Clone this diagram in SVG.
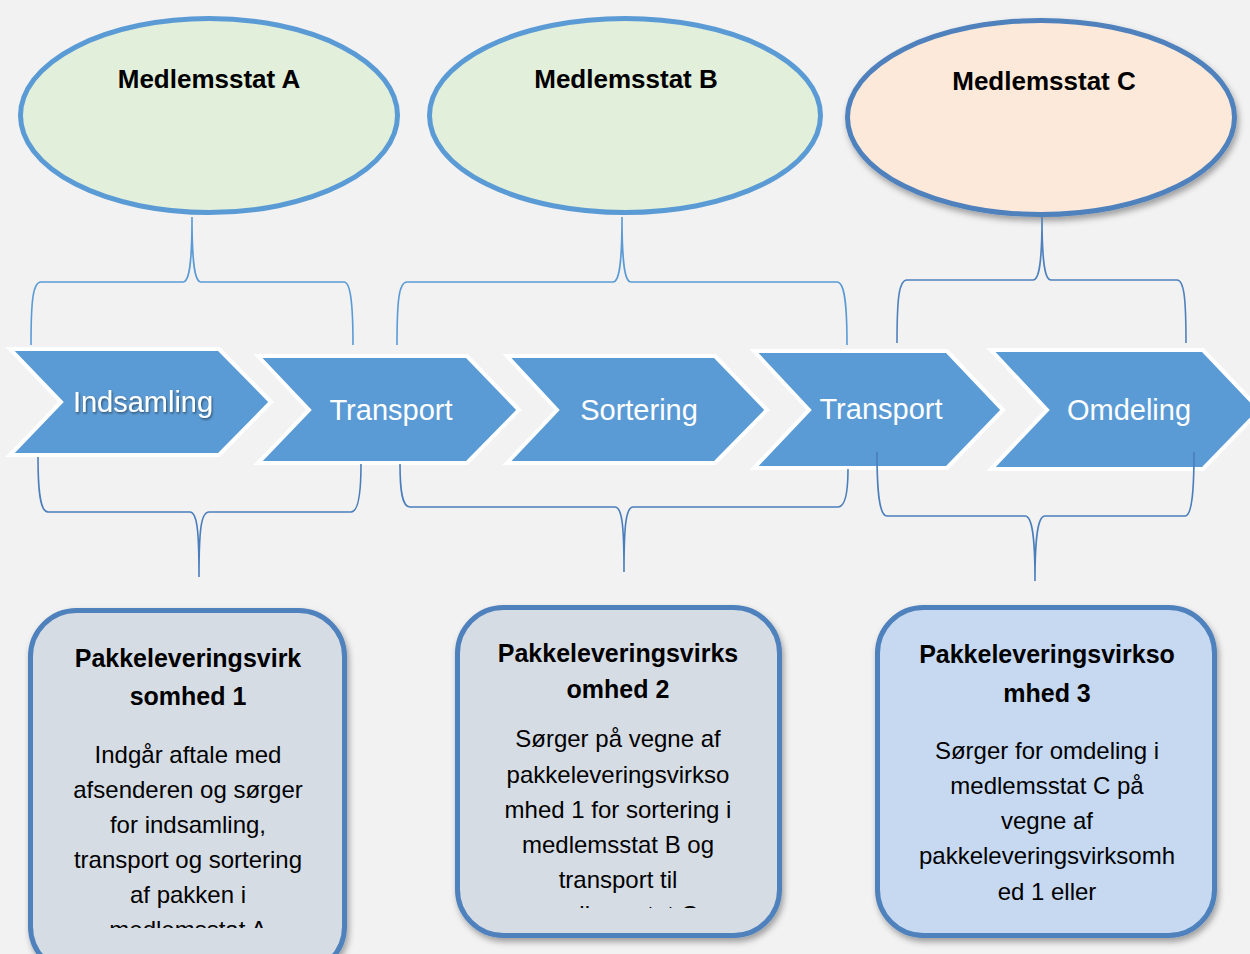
<svg xmlns="http://www.w3.org/2000/svg" width="1250" height="954" viewBox="0 0 1250 954">
<style>
.ell{stroke-width:5}
.state{font-family:"Liberation Sans",Arial,sans-serif;font-weight:bold;font-size:26px;fill:#000;text-anchor:middle}
.chev{fill:#5b9bd5;stroke:#fff;stroke-width:4;stroke-linejoin:miter}
.clab{font-family:"Liberation Sans",Arial,sans-serif;font-size:29px;fill:#fff;text-anchor:middle}
.box{stroke:#4f81bd;stroke-width:5}
.bt{font-family:"Liberation Sans",Arial,sans-serif;font-weight:bold;font-size:25px;fill:#000;text-anchor:middle}
.bb{font-family:"Liberation Sans",Arial,sans-serif;font-size:24px;fill:#000;text-anchor:middle}
.br{fill:none;stroke-width:1.6}
</style>
<defs>
<filter id="sh" x="-10%" y="-10%" width="130%" height="130%">
<feDropShadow dx="2" dy="4" stdDeviation="3" flood-color="#000" flood-opacity="0.35"/>
</filter>
<filter id="tsh" x="-10%" y="-20%" width="130%" height="150%">
<feDropShadow dx="1" dy="1.5" stdDeviation="1" flood-color="#000" flood-opacity="0.5"/>
</filter>
<clipPath id="c1"><rect x="30" y="600" width="320" height="328"/></clipPath>
<clipPath id="c2"><rect x="455" y="600" width="330" height="308"/></clipPath>
</defs>
<rect width="1250" height="954" fill="#f2f2f2"/>

<g id="state-a">
<ellipse class="ell" cx="209" cy="115.5" rx="188.5" ry="97" fill="#e2efda" stroke="#5b9bd5"/>
<text class="state" x="209" y="88">Medlemsstat A</text>
</g>
<g id="state-b">
<ellipse class="ell" cx="625" cy="115.5" rx="195.5" ry="97" fill="#e2efda" stroke="#5b9bd5"/>
<text class="state" x="626" y="88">Medlemsstat B</text>
</g>
<g id="state-c">
<ellipse class="ell" cx="1041" cy="117.5" rx="193.5" ry="97" fill="#fde9d9" stroke="#4f81bd" filter="url(#sh)"/>
<text class="state" x="1044" y="90">Medlemsstat C</text>
</g>

<g id="step-indsamling">
<polygon class="chev" points="10,349 219,349 271,402 219,455 10,455 61,402"/>
<text class="clab" x="143" y="412" filter="url(#tsh)">Indsamling</text>
</g>
<g id="step-transport-1">
<polygon class="chev" points="258,356 467,356 519,410 467,463 258,463 309,410"/>
<text class="clab" x="391" y="420">Transport</text>
</g>
<g id="step-sortering">
<polygon class="chev" points="507,356 715,356 767,410 715,463 507,463 557,410"/>
<text class="clab" x="639" y="420">Sortering</text>
</g>
<g id="step-transport-2">
<polygon class="chev" points="754,351 947,351 1003,410 947,468 754,468 809,410"/>
<text class="clab" x="881" y="419">Transport</text>
</g>
<g id="step-omdeling">
<polygon class="chev" points="991,350 1203,350 1260,410 1203,469 991,469 1047,410"/>
<text class="clab" x="1129" y="420">Omdeling</text>
</g>

<g id="company-1">
<rect class="box" x="30.5" y="610.5" width="314" height="362" rx="46" fill="#d6dce4" filter="url(#sh)"/>
<text class="bt" x="188" y="667">Pakkeleveringsvirk</text>
<text class="bt" x="188" y="705">somhed 1</text>
<g clip-path="url(#c1)">
<text class="bb" x="188" y="763">Indgår aftale med</text>
<text class="bb" x="188" y="798">afsenderen og sørger</text>
<text class="bb" x="188" y="833">for indsamling,</text>
<text class="bb" x="188" y="868">transport og sortering</text>
<text class="bb" x="188" y="903">af pakken i</text>
<text class="bb" x="188" y="938">medlemsstat A</text>
</g>
</g>
<g id="company-2">
<rect class="box" x="457.5" y="607.5" width="322" height="328" rx="46" fill="#d6dce4" filter="url(#sh)"/>
<text class="bt" x="618" y="662">Pakkeleveringsvirks</text>
<text class="bt" x="618" y="698">omhed 2</text>
<g clip-path="url(#c2)">
<text class="bb" x="618" y="747">Sørger på vegne af</text>
<text class="bb" x="618" y="783">pakkeleveringsvirkso</text>
<text class="bb" x="618" y="818">mhed 1 for sortering i</text>
<text class="bb" x="618" y="853">medlemsstat B og</text>
<text class="bb" x="618" y="888">transport til</text>
<text class="bb" x="618" y="923">medlemsstat C</text>
</g>
</g>
<g id="company-3">
<rect class="box" x="877.5" y="607.5" width="337" height="328" rx="46" fill="#c6d9f0" filter="url(#sh)"/>
<text class="bt" x="1047" y="663">Pakkeleveringsvirkso</text>
<text class="bt" x="1047" y="702">mhed 3</text>
<text class="bb" x="1047" y="759">Sørger for omdeling i</text>
<text class="bb" x="1047" y="794">medlemsstat C på</text>
<text class="bb" x="1047" y="829">vegne af</text>
<text class="bb" x="1047" y="864">pakkeleveringsvirksomh</text>
<text class="bb" x="1047" y="900">ed 1 eller</text>
</g>

<g id="connectors">
<path class="br" stroke="#5b9bd5" d="M31 345 C31 300 33 282 41 282 L183 282 C189 282 192 266 192 217 C192 266 195 282 201 282 L344 282 C350 282 353 300 353 345"/>
<path class="br" stroke="#5b9bd5" d="M397 345 C397 300 399 282 407 282 L613 282 C619 282 622 266 622 217 C622 266 625 282 631 282 L837 282 C844 282 847 300 847 345"/>
<path class="br" stroke="#4f81bd" d="M897 343 C897 298 899 280 907 280 L1033 280 C1039 280 1042 264 1042 217 C1042 264 1045 280 1051 280 L1177 280 C1184 280 1186 298 1186 343"/>
<path class="br" stroke="#4a7ebb" d="M38 457 C38 490 40 512 48 512 L190 512 C197 512 199 530 199 577 C199 530 201 512 209 512 L351 512 C359 512 361 490 361 464"/>
<path class="br" stroke="#4a7ebb" d="M400 464 C400 490 402 507 410 507 L615 507 C622 507 624 525 624 572 C624 525 626 507 633 507 L838 507 C846 507 848 490 848 469"/>
<path class="br" stroke="#4a7ebb" d="M877 452 C877 490 879 516 887 516 L1025 516 C1032 516 1035 535 1035 581 C1035 535 1038 516 1045 516 L1185 516 C1192 516 1194 490 1194 452"/>
</g>
</svg>
